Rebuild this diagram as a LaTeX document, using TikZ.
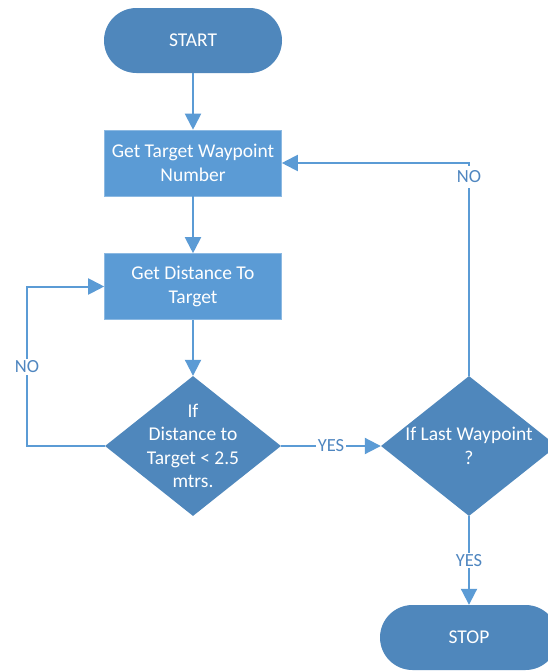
\documentclass[tikz,border=0pt]{standalone}
\usepackage{fontspec}
\setmainfont{Carlito}
\usetikzlibrary{shapes.geometric,arrows.meta}
\definecolor{boxblue}{HTML}{5B9BD5}
\definecolor{darkblue}{HTML}{4F87BC}
\definecolor{lineblue}{HTML}{5B9BD5}
\definecolor{lblblue}{HTML}{4F86C0}
\begin{document}
\begin{tikzpicture}[x=1pt,y=-1pt,
  font=\fontsize{19.5}{23.5}\selectfont,
  term/.style={draw=none, fill=darkblue, text=white, rounded corners=32.5pt,
    minimum width=178pt, minimum height=65pt, inner sep=0pt},
  proc/.style={draw=boxblue!70!white, line width=0.6pt, fill=boxblue, text=white,
    minimum width=177pt, minimum height=66pt, align=center, inner sep=0pt},
  dec/.style={diamond, fill=darkblue, draw=none, minimum width=176pt,
    minimum height=140pt, inner sep=0pt},
  dtext/.style={text=white, align=center, inner sep=0pt},
  conn/.style={draw=lineblue, line width=2pt, -{Triangle[length=16pt,width=16pt]}},
  lbl/.style={text=lblblue, fill=white, inner sep=1.5pt, font=\fontsize{18.5}{22}\selectfont}
]
\fill[white] (0,0) rectangle (548,672);
\useasboundingbox (0,0) rectangle (548,672);

\node[term] (start) at (193,40.5) {START};
\node[proc] (b1) at (193,163) {Get Target Waypoint\\Number};
\node[proc] (b2) at (193,286.5) {Get Distance To\\Target};
\node[dec] (d1) at (193,446) {};
\node[dtext] (t1) at (d1.center) {If\\Distance to\\Target < 2.5\\mtrs.};
\node[dec] (d2) at (469,446) {};
\node[dtext] (t2) at (d2.center) {If Last Waypoint\\?};
\node[term] (stop) at (469,637.5) {STOP};

\coordinate (lc) at (27,446);
\coordinate (rc) at (469,163);

\draw[conn] (start) -- (b1);
\draw[conn] (b1) -- (b2);
\draw[conn] (b2) -- (d1.north);
\draw[conn] (d1.west) -- (lc) |- (b2.west);
\node[lbl] (no1) at (27,367) {NO};
\draw[conn] (d1.east) -- node[lbl] (yes1) {YES} (d2.west);
\draw[conn] (d2.north) -- (rc) -- (b1.east);
\node[lbl, minimum height=22pt] (no2) at (469,177) {NO};
\draw[conn] (d2.south) -- node[lbl] (yes2) {YES} (stop.north);
\end{tikzpicture}
\end{document}
